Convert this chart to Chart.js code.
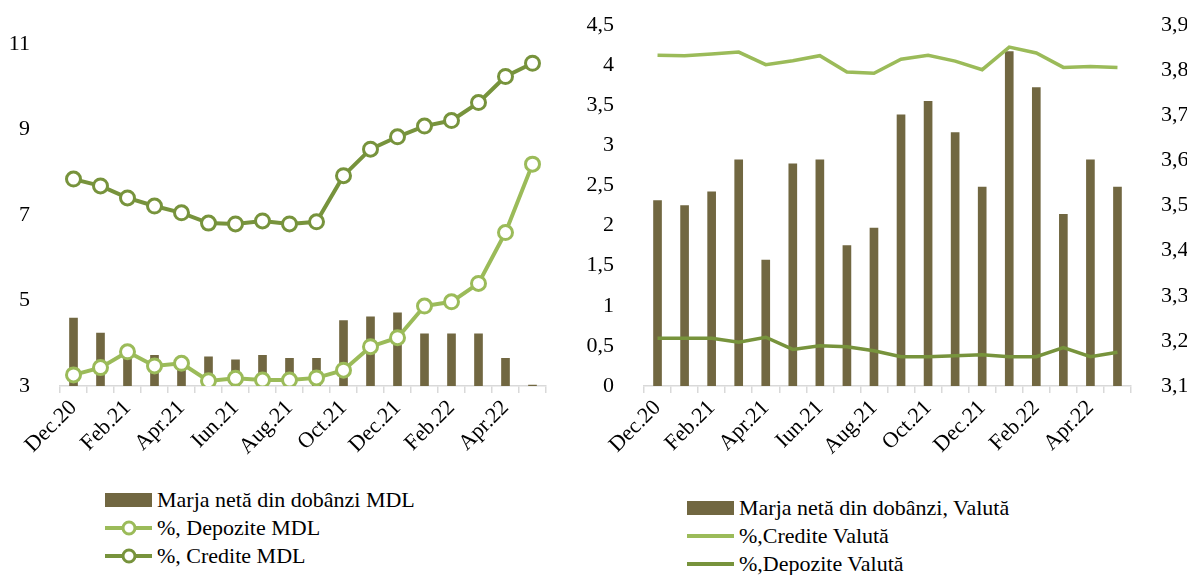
<!DOCTYPE html>
<html>
<head>
<meta charset="utf-8">
<script src="https://cdn.jsdelivr.net/npm/chart.js@4.4.1/dist/chart.umd.min.js"></script>
<style>
  body { margin: 0; width: 1187px; height: 575px; overflow: hidden; background: #fff; font-family: 'Liberation Serif', serif; }
  canvas { position: absolute; top: 0; }
  #left { left: 0; }
  #right { left: 580px; }
  .legend { position: absolute; font-size: 22px; color: #000; }
  .legend .row { display: flex; align-items: center; height: 28px; white-space: nowrap; }
  .legend svg { margin-right: 4px; flex: none; }
</style>
</head>
<body>
<canvas id="left" width="580" height="470"></canvas>
<canvas id="right" width="607" height="470"></canvas>
<div class="legend" id="legendLeft" style="left:105px; top:486px;"></div>
<div class="legend" id="legendRight" style="left:687px; top:494px;"></div>
<script>
const labels = ['Dec.20', 'Ian.21', 'Feb.21', 'Mar.21', 'Apr.21', 'Mai.21', 'Iun.21', 'Iul.21', 'Aug.21',
    'Sep.21', 'Oct.21', 'Noi.21', 'Dec.21', 'Ian.22', 'Feb.22', 'Mar.22', 'Apr.22', 'Mai.22'];

// left chart: MDL
const marjaMDL = [4.59, 4.24, 3.8, 3.72, 3.6, 3.68, 3.61, 3.72, 3.65, 3.65, 4.53, 4.62, 4.71, 4.22, 4.22, 4.22, 3.65, 3.02];
const depoziteMDL = [3.26, 3.43, 3.80, 3.47, 3.53, 3.12, 3.18, 3.14, 3.14, 3.19, 3.37, 3.92, 4.13, 4.87, 4.97, 5.40, 6.59, 8.19];
const crediteMDL = [7.84, 7.68, 7.40, 7.21, 7.05, 6.81, 6.79, 6.86, 6.79, 6.84, 7.92, 8.54, 8.83, 9.08, 9.21, 9.63, 10.24, 10.55];

// right chart: Valuta
const marjaValuta = [2.31, 2.25, 2.42, 2.82, 1.57, 2.77, 2.82, 1.75, 1.97, 3.38, 3.55, 3.16, 2.48, 4.17, 3.72, 2.14, 2.82, 2.48];
const crediteValuta = [3.833, 3.832, 3.836, 3.840, 3.812, 3.821, 3.832, 3.796, 3.793, 3.824, 3.833, 3.820, 3.801, 3.851, 3.838, 3.806, 3.808, 3.806];
const depoziteValuta = [3.206, 3.206, 3.206, 3.197, 3.208, 3.181, 3.189, 3.187, 3.178, 3.165, 3.165, 3.167, 3.169, 3.165, 3.165, 3.185, 3.165, 3.175];

const BAR = '#716741';
const LIGHT = '#9bbb59';
const DARK = '#77933c';
const font = { family: "'Liberation Serif', serif", size: 22 };

Chart.defaults.font = font;
Chart.defaults.color = '#000';

const comma = v => String(Math.round(v * 10) / 10).replace('.', ',');

function xAxis() {
    return {
        offset: true,
        border: { color: '#d9d9d9', width: 1.5 },
        grid: { offset: true, drawOnChartArea: false, drawTicks: true, tickLength: 7, color: '#d9d9d9', lineWidth: 1.5 },
        ticks: {
            autoSkip: false, minRotation: 45, maxRotation: 45, padding: 2,
            callback: (v, i) => i % 2 === 0 ? labels[i] : ''
        },
        afterFit: s => { s.height = 84; }
    };
}

// fixed width for a y axis, without the extra top/bottom padding Chart.js adds
const yFit = w => s => { s.width = w; s.paddingTop = 0; s.paddingBottom = 0; };

new Chart(document.getElementById('left'), {
    type: 'bar',
    data: {
        labels: labels,
        datasets: [
            {
                type: 'line', label: '%, Credite MDL', data: crediteMDL, order: 0,
                borderColor: DARK, borderWidth: 4, pointRadius: 7, pointBorderWidth: 3,
                pointBackgroundColor: '#fff', pointBorderColor: DARK, tension: 0
            },
            {
                type: 'line', label: '%, Depozite MDL', data: depoziteMDL, order: 1,
                borderColor: LIGHT, borderWidth: 4, pointRadius: 7, pointBorderWidth: 3,
                pointBackgroundColor: '#fff', pointBorderColor: LIGHT, tension: 0
            },
            {
                label: 'Marja netă din dobânzi MDL', data: marjaMDL, order: 2,
                backgroundColor: BAR, barThickness: 8
            }
        ]
    },
    options: {
        responsive: false,
        animation: false,
        layout: { padding: { top: 44, right: 34, left: 0, bottom: 0 } },
        plugins: { legend: { display: false }, tooltip: { enabled: false } },
        scales: {
            x: xAxis(),
            y: {
                min: 3, max: 11,
                border: { display: false },
                grid: { display: false },
                ticks: { stepSize: 2, padding: 22 },
                afterFit: yFit(60)
            }
        }
    }
});

new Chart(document.getElementById('right'), {
    type: 'bar',
    data: {
        labels: labels,
        datasets: [
            {
                type: 'line', label: '%,Credite Valută', data: crediteValuta, yAxisID: 'y1', order: 0,
                borderColor: LIGHT, borderWidth: 3.5, pointRadius: 0, tension: 0
            },
            {
                type: 'line', label: '%,Depozite Valută', data: depoziteValuta, yAxisID: 'y1', order: 1,
                borderColor: DARK, borderWidth: 3.5, pointRadius: 0, tension: 0
            },
            {
                label: 'Marja netă din dobânzi, Valută', data: marjaValuta, yAxisID: 'y', order: 2,
                backgroundColor: BAR, barThickness: 8
            }
        ]
    },
    options: {
        responsive: false,
        animation: false,
        layout: { padding: { top: 25, right: 0, left: 0, bottom: 0 } },
        plugins: { legend: { display: false }, tooltip: { enabled: false } },
        scales: {
            x: xAxis(),
            y: {
                position: 'left', min: 0, max: 4.5,
                border: { display: false },
                grid: { display: false },
                ticks: { stepSize: 0.5, padding: 22, callback: comma },
                afterFit: yFit(64)
            },
            y1: {
                position: 'right', min: 3.1, max: 3.9,
                border: { display: false },
                grid: { display: false },
                ticks: { stepSize: 0.1, padding: 22, callback: comma },
                afterFit: yFit(56)
            }
        }
    }
});

// html legends, items stacked one per row
function swatch(kind, color) {
    if (kind === 'bar') {
        return '<svg width="48" height="16"><rect x="0" y="1" width="47" height="14" fill="' + color + '"/></svg>';
    }
    let s = '<svg width="48" height="18"><line x1="0" y1="9" x2="47" y2="9" stroke="' + color + '" stroke-width="4"/>';
    if (kind === 'marker') {
        s += '<circle cx="24" cy="9" r="6" fill="#fff" stroke="' + color + '" stroke-width="3"/>';
    }
    return s + '</svg>';
}

function legend(id, items) {
    document.getElementById(id).innerHTML = items.map(it =>
        '<div class="row">' + swatch(it[1], it[2]) + '<span>' + it[0] + '</span></div>').join('');
}

legend('legendLeft', [
    ['Marja netă din dobânzi MDL', 'bar', BAR],
    ['%, Depozite MDL', 'marker', LIGHT],
    ['%, Credite MDL', 'marker', DARK]
]);
legend('legendRight', [
    ['Marja netă din dobânzi, Valută', 'bar', BAR],
    ['%,Credite Valută', 'line', LIGHT],
    ['%,Depozite Valută', 'line', DARK]
]);
</script>
</body>
</html>
